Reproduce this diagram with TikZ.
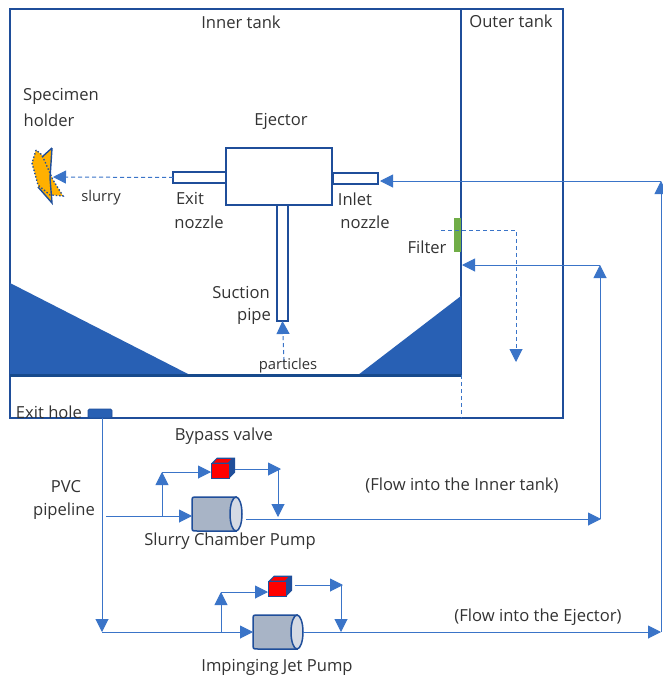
\documentclass[tikz,border=0pt]{standalone}
\usepackage{fontspec}
\setmainfont{Open Sans}
\usetikzlibrary{arrows.meta,calc}
\definecolor{wall}{HTML}{1F4E9A}
\definecolor{pipe}{HTML}{3A74C8}
\definecolor{wedge}{HTML}{2860B4}
\definecolor{floorband}{HTML}{174A8C}
\definecolor{ink}{HTML}{333333}
\definecolor{pumpbody}{HTML}{A8B4C6}
\definecolor{pumpend}{HTML}{D5DAE4}
\definecolor{filtergreen}{HTML}{70AD47}
\definecolor{specimen}{HTML}{FFB000}
\tikzset{
  lbl/.style={text=ink,font=\fontsize{16.6}{19}\selectfont,inner sep=0pt},
  small/.style={text=ink,font=\fontsize{14.8}{17}\selectfont,inner sep=0pt},
  wallbox/.style={draw=wall,line width=2pt,fill=white,inner sep=0pt,outer sep=0pt},
  flow/.style={draw=pipe,line width=1pt,-{Triangle[length=13pt,width=13pt]}},
  dflow/.style={draw=pipe,line width=1pt,dash pattern=on 4pt off 3pt,-{Triangle[length=13pt,width=13pt]}},
  pumpframe/.style={inner sep=0pt,outer sep=0pt,minimum width=50pt,minimum height=34pt},
  valvebox/.style={draw=wall,fill=red,line width=1pt,inner sep=0pt,outer sep=0pt,minimum width=18pt,minimum height=15pt},
}
\newcommand{\pumpdraw}[1]{%
  \draw[wall,line width=1.5pt,fill=pumpbody] ($(#1.north east)+(-6,0)$) -- ($(#1.north west)+(5,0)$) .. controls (#1.north west) and (#1.north west) .. ($(#1.north west)+(0,5)$) -- ($(#1.south west)+(0,-5)$) .. controls (#1.south west) and (#1.south west) .. ($(#1.south west)+(5,0)$) -- ($(#1.south east)+(-6,0)$) -- cycle;
  \draw[wall,line width=1.5pt,fill=pumpend] ($(#1.east)+(-6,0)$) ellipse [x radius=6pt,y radius=17pt];
}
\newcommand{\valvedraw}[1]{%
  \fill[wall] (#1.north west) -- ++(6,-6) -- ++(18,0) -- ++(0,15) -- (#1.south east) -- (#1.north east) -- cycle;
  \fill[red] ($(#1.north west)+(3,-1)$) -- ++(3,-3.5) -- ++(14,0) -- ++(-3,3.5) -- cycle;
  \draw[wall,line width=1pt] (#1.north west) rectangle (#1.south east);
}
\begin{document}
\begin{tikzpicture}[x=1pt,y=-1pt]
\useasboundingbox (0,0) rectangle (662,680);
\fill[white] (0,0) rectangle (662,680);
% tanks
\node[wallbox,minimum width=553pt,minimum height=409pt] (outer) at (286.5,213.5) {};
\node[inner sep=0pt,outer sep=0pt,minimum width=451pt,minimum height=366pt] (inner) at (235.5,192) {};
\draw[wall,line width=2pt] (inner.north east) -- (inner.south east);
\fill[wedge] (10,283) -- (190,375) -- (10,375) -- cycle;
\fill[wedge] (461,296) -- (358,375) -- (461,375) -- cycle;
\draw[floorband,line width=3pt] (inner.south west) -- (inner.south east);
\draw[pipe,line width=1pt,dash pattern=on 4pt off 3pt] (inner.south east) -- (inner.south east |- outer.south);
% ejector
\node[wallbox,minimum width=106pt,minimum height=57pt] (ejector) at (279,176.5) {};
\node[wallbox,line width=1.6pt,minimum width=53pt,minimum height=11pt] (exitn) at (199.5,177.5) {};
\node[wallbox,line width=1.6pt,minimum width=45pt,minimum height=11pt] (inletn) at (355.5,178.5) {};
\node[wallbox,line width=1.6pt,minimum width=11pt,minimum height=116pt] (suction) at (282.5,263) {};
\node[fill=filtergreen,inner sep=0pt,outer sep=0pt,minimum width=7pt,minimum height=34pt] (filter) at (457.5,235) {};
\node[draw=wall,fill=wedge,rounded corners=1.5pt,line width=0.8pt,inner sep=0pt,outer sep=0pt,minimum width=24pt,minimum height=9pt] (exithole) at (100,413.5) {};
% specimen holder
\fill[specimen] (36,150) -- (32,163) -- (38,185) -- (50,195) -- (63,196) -- (53,180) -- (42,155) -- cycle;
\fill[specimen] (52,148) -- (42,157) -- (38,187) -- (52,203) -- (50,178) -- cycle;
\draw[wall,line width=1.4pt] (52,148) -- (42,157);
\draw[wall,line width=1.4pt] (52,148) -- (50,178);
\draw[wall,line width=1.4pt] (38,187) -- (52,203) -- (50,178);
\draw[wall,line width=1.4pt,dotted] (36,150) -- (32,163) -- (38,185) -- (50,195) -- (63,196) -- (53,180) -- (42,155) -- cycle;
\coordinate (holdertip) at (53,177);
\draw[dflow] (exitn.west) -- (holdertip);
% particles
\coordinate (partstart) at (284,361);
\draw[dflow] (partstart) -- (suction.south);
% filter dashed
\coordinate (fa) at (441,230);
\coordinate (fb) at (516,230);
\coordinate (fc) at (516,362);
\draw[dflow] (fa) -- (fb) -- (fc);
% pump 1
\node[pumpframe] (pumpA) at (217,514) {};
\pumpdraw{pumpA}
\node[valvebox] (valveA) at (220,471) {};
\valvedraw{valveA}
\coordinate (inA) at (106,516);
\coordinate (brA) at (162,516);
\coordinate (upA) at (162,472);
\coordinate (ovA) at (235,469);
\coordinate (rA) at (281,469);
\coordinate (dA) at (278,469);
\coordinate (dAe) at (278,517);
\coordinate (outA) at (246,519);
\coordinate (outAe) at (601,519);
\coordinate (upB) at (600,265);
\coordinate (tankin) at (462,265);
\draw[flow] (inA) -- (pumpA.west |- inA);
\draw[flow] (brA) -- (upA);
\draw[flow] (upA) -- (valveA.west |- upA);
\draw[flow] (ovA) -- (rA);
\draw[flow] (dA) -- (dAe);
\draw[flow] (outA) -- (outAe);
\draw[flow] (outAe -| upB) -- (upB);
\draw[flow] (upB) -- (tankin);
% pump 2
\node[pumpframe] (pumpB) at (278,632) {};
\pumpdraw{pumpB}
\node[valvebox] (valveB) at (277,589) {};
\valvedraw{valveB}
\coordinate (cornerB) at (102,632);
\coordinate (brB) at (221,632);
\coordinate (upBr) at (221,592);
\coordinate (ovB) at (295,585);
\coordinate (rB) at (343,585);
\coordinate (dB) at (341,585);
\coordinate (dBe) at (341,632);
\coordinate (farR) at (661,632);
\coordinate (farT) at (661,181);
\coordinate (ejin) at (380,181);
\draw[flow] (exithole.south -| cornerB) -- (cornerB);
\draw[flow] (cornerB) -- (pumpB.west |- cornerB);
\draw[flow] (brB) -- (upBr);
\draw[flow] (upBr) -- (valveB.west |- upBr);
\draw[flow] (ovB) -- (rB);
\draw[flow] (dB) -- (dBe);
\draw[flow] (pumpB.east |- farR) -- (farR);
\draw[flow] (farR) -- (farT);
\draw[flow] (farT) -- (ejin);
% labels
\node[lbl] (tInner) at (241,22) {Inner tank};
\node[lbl] (tOuter) at (511,21) {Outer tank};
\node[lbl] (tSpec) at (61,96) {Specimen};
\node[lbl] (tHold) at (49,120) {holder};
\node[lbl] (tEj) at (281,121) {Ejector};
\node[small] (tSl) at (101,198) {slurry};
\node[lbl] (tExit) at (190,198) {Exit};
\node[lbl] (tNoz) at (199,222) {nozzle};
\node[lbl] (tInl) at (355,199) {Inlet};
\node[lbl] (tNoz2) at (365,222) {nozzle};
\node[lbl] (tFil) at (427,247) {Filter};
\node[lbl] (tSuc) at (241,292) {Suction};
\node[lbl] (tPipe) at (254,316) {pipe};
\node[small] (tPart) at (288,366) {particles};
\node[lbl] (tHole) at (49,412) {Exit hole};
\node[lbl] (tByp) at (224,436) {Bypass valve};
\node[lbl] (tPvc) at (66,487) {PVC};
\node[lbl] (tPl) at (64,511) {pipeline};
\node[lbl] (tFa) at (462,486) {(Flow into the Inner tank)};
\node[lbl] (tFb) at (538,617) {(Flow into the Ejector)};
\node[lbl] (tPa) at (230,541) {Slurry Chamber Pump};
\node[lbl] (tPb) at (277,667) {Impinging Jet Pump};
\end{tikzpicture}
\end{document}
